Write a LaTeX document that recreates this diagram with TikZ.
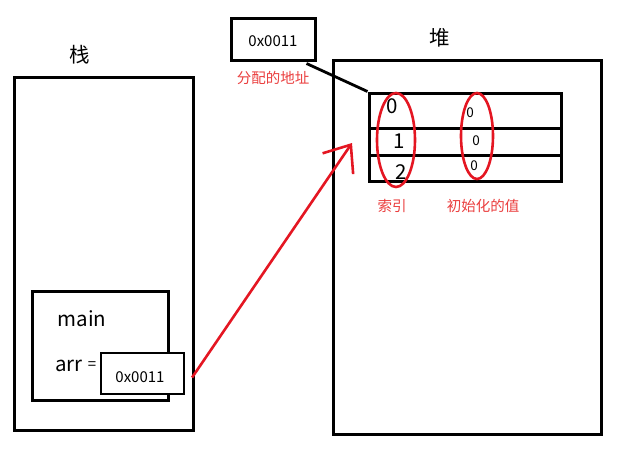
\documentclass[tikz,border=0pt]{standalone}
\usepackage{fontspec}
\setmainfont{Noto Sans CJK SC}
\usetikzlibrary{positioning,calc,arrows.meta}

\definecolor{penred}{RGB}{228,22,34}
\definecolor{notered}{RGB}{234,62,62}

\begin{document}
\begin{tikzpicture}[x=1pt, y=-1pt,
  frame/.style={draw, line width=3pt, inner sep=0pt},
  cell/.style={draw, line width=3pt, minimum width=192pt, inner sep=0pt},
  note/.style={text=notered, font=\fontsize{14.5}{14.5}\selectfont},
  big/.style={font=\fontsize{20.5}{20.5}\selectfont},
  small/.style={font=\fontsize{15}{15}\selectfont}]
  \useasboundingbox (0,0) rectangle (640,458);

  % Stack (left)
  \node[frame, minimum width=179pt, minimum height=353pt] (stack) at (103.5,253.5) {};
  \node[big] (stacklbl) at (80,55) {栈};
  \node[frame, minimum width=136pt, minimum height=109pt] (mainbox) at (100,345.5) {};
  \node[big] (mainlbl) at (82,319) {main};
  \node[big] (arrlbl) at (69,366) {arr};
  \node[small] (eqlbl) at (92,366) {=};
  \node[frame, line width=2.2pt, fill=white, minimum width=83pt, minimum height=41pt] (ptr) at (142.5,373.5) {};
  \node[small] (ptrtxt) at (140,377) {0x0011};

  % Heap (right)
  \node[frame, minimum width=268pt, minimum height=374pt] (heap) at (467,247) {};
  \node[big] (heaplbl) at (440,38) {堆};
  \node[cell, minimum height=35pt] (row0) at (465,110.5) {};
  \node[cell, minimum height=27pt] (row1) at (465,141.5) {};
  \node[cell, minimum height=26pt] (row2) at (465,168) {};

  % Indices and values
  \node[big] (idx0) at (392,106) {0};
  \node[big] (idx1) at (399,141) {1};
  \node[big] (idx2) at (401,172) {\itshape 2};
  \node[font=\fontsize{13.5}{13.5}\selectfont] (val0) at (470,113) {0};
  \node[font=\fontsize{13.5}{13.5}\selectfont] (val1) at (476,141) {0};
  \node[font=\fontsize{13.5}{13.5}\selectfont] (val2) at (474,166) {0};
  \draw[penred, line width=2.6pt] (396,140) ellipse [x radius=19, y radius=47];
  \draw[penred, line width=2.6pt] (477,136) ellipse [x radius=16, y radius=43];
  \node[note] (idxnote) at (392,206) {索引};
  \node[note] (valnote) at (483,206) {初始化的值};

  % Allocated address
  \node[frame, minimum width=84pt, minimum height=42pt] (addr) at (273,39) {};
  \node[small] (addrtxt) at (273,41) {0x0011};
  \node[note] (addrnote) at (273,78) {分配的地址};
  \draw[line width=2.8pt] ($(addr.south east)+(-10,2)$) -- (row0.north west);

  % Reference arrow
  \coordinate (tip) at (352,143);
  \draw[penred, line width=2.6pt, -{Straight Barb[length=23pt, width=37pt, line width=2.6pt]}]
    ($(ptr.east)+(7,4)$) -- (tip);
\end{tikzpicture}
\end{document}
